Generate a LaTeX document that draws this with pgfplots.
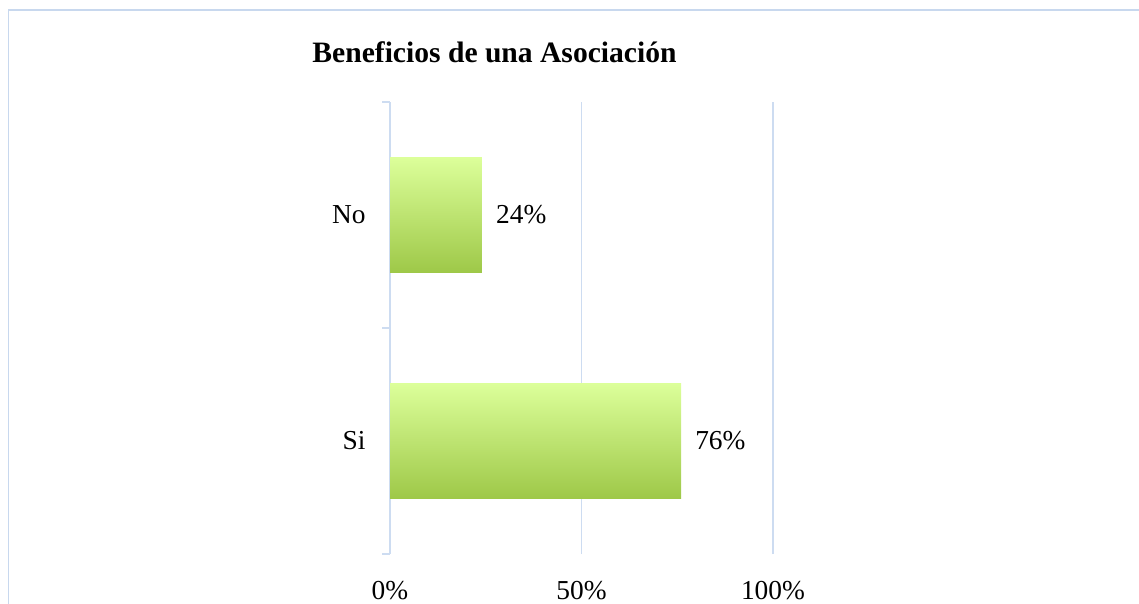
\documentclass[border=0pt]{standalone}
\usepackage{pgfplots}
\pgfplotsset{compat=1.18}
\usepackage{fontspec}
\setmainfont{Liberation Serif}
\definecolor{framec}{RGB}{200,216,238}
\definecolor{gridc}{RGB}{205,220,241}
\definecolor{bartop}{RGB}{220,255,154}
\definecolor{barmid}{RGB}{190,228,118}
\definecolor{barbot}{RGB}{158,200,72}
\begin{document}
\begin{tikzpicture}
\useasboundingbox (0,0) rectangle (1139bp,604bp);
\draw[framec, line width=1.6bp] (8.5bp,0) -- (8.5bp,594bp) -- (1139bp,594bp);
\node[font=\fontsize{29.7}{34}\selectfont\bfseries, anchor=base] at (494.5bp,541bp) {Beneficios de una Asociación};
\begin{axis}[
  at={(390bp,50bp)}, anchor=south west,
  scale only axis, width=383bp, height=452bp,
  xmin=0, xmax=100, ymin=-0.5, ymax=1.5,
  axis y line*=left, axis x line*=bottom,
  x axis line style={draw=none},
  y axis line style={draw=gridc, line width=1.5bp},
  xtick={0,50,100}, xticklabels={0\%,50\%,100\%},
  major x tick style={draw=none},
  xmajorgrids, grid style={draw=gridc, line width=1.5bp},
  ytick={0,1}, yticklabels={Si,No},
  major y tick style={draw=none},
  extra y ticks={-0.5,0.5,1.5}, extra y tick labels={},
  extra y tick style={major tick length=8bp, tick align=outside, major y tick style={draw=gridc, line width=1.5bp}, grid=none},
  tick label style={font=\fontsize{27.5}{32}\selectfont},
  xticklabel style={anchor=base, yshift=-45bp, inner sep=0pt},
  yticklabel style={anchor=east, xshift=-20bp, inner sep=0pt},
  xbar, bar width=0.51, bar shift=0pt,
  /pgf/number format/assume math mode=true,
  nodes near coords={\pgfmathprintnumber{\pgfplotspointmeta}\%},
  nodes near coords style={font=\fontsize{27.5}{32}\selectfont, anchor=west, xshift=14bp, inner sep=0pt, text=black},
  clip=false,
]
\addplot[draw=none, top color=bartop, middle color=barmid, bottom color=barbot] coordinates {(76,0)};
\addplot[draw=none, top color=bartop, middle color=barmid, bottom color=barbot] coordinates {(24,1)};
\end{axis}
\end{tikzpicture}
\end{document}
